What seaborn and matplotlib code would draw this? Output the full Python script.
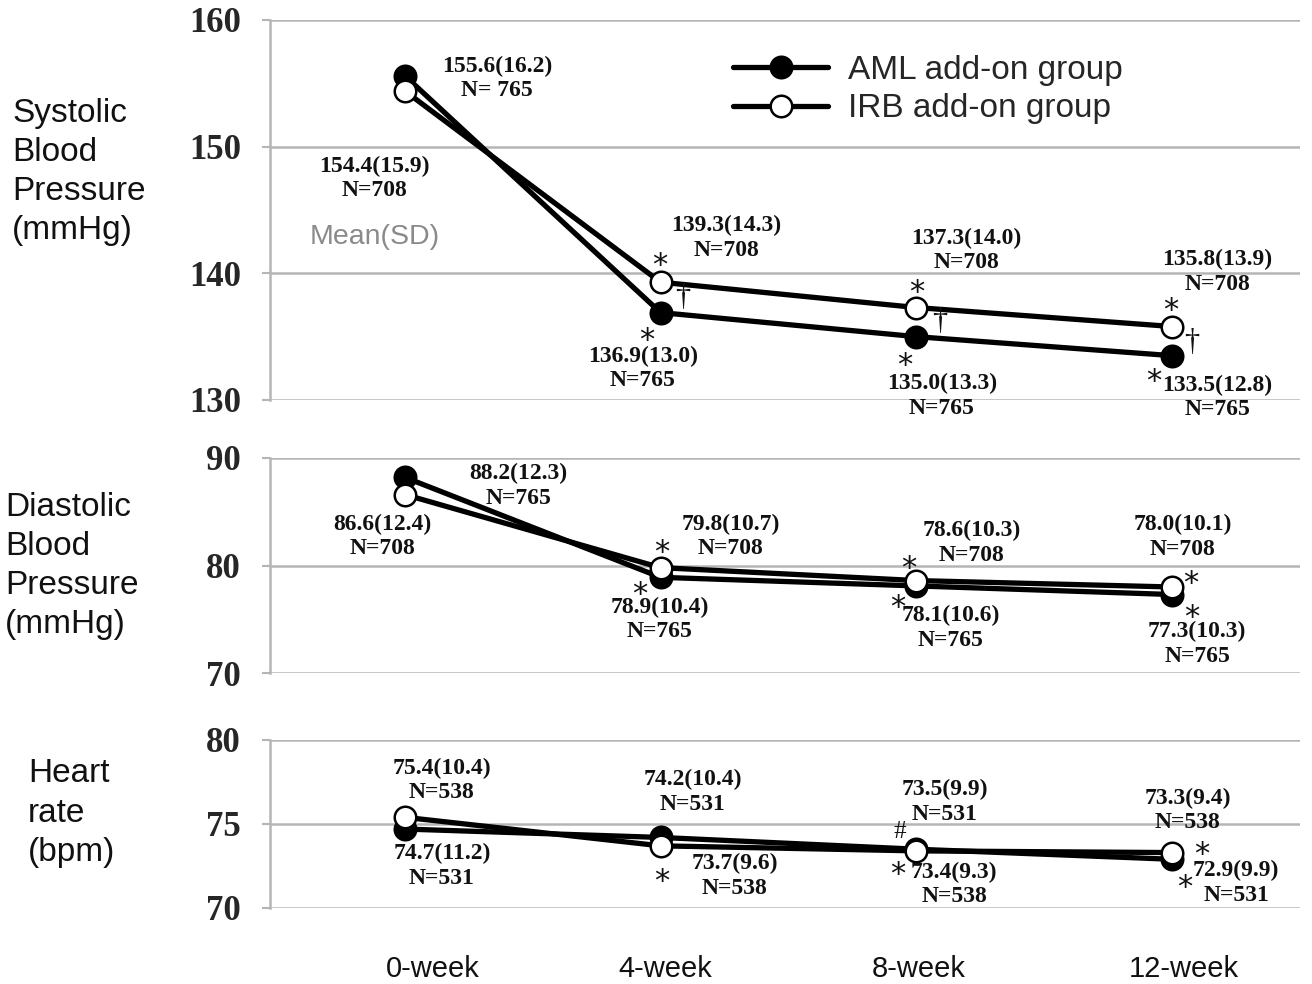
import numpy as np
import pandas as pd
import matplotlib
matplotlib.use("Agg")
import matplotlib.pyplot as plt
import seaborn as sns

# ---- data -------------------------------------------------------------
weeks = ["0-week", "4-week", "8-week", "12-week"]
groups = ["AML add-on group", "IRB add-on group"]

sbp_aml = [155.6, 136.9, 135.0, 133.5]
sbp_irb = [154.4, 139.3, 137.3, 135.8]
dbp_aml = [88.2, 78.9, 78.1, 77.3]
dbp_irb = [86.6, 79.8, 78.6, 78.0]
hr_aml = [74.7, 74.2, 73.5, 72.9]
hr_irb = [75.4, 73.7, 73.4, 73.3]

sbp_sd_aml = ["16.2", "13.0", "13.3", "12.8"]
sbp_sd_irb = ["15.9", "14.3", "14.0", "13.9"]
dbp_sd_aml = ["12.3", "10.4", "10.6", "10.3"]
dbp_sd_irb = ["12.4", "10.7", "10.3", "10.1"]
hr_sd_aml = ["11.2", "10.4", "9.9", "9.9"]
hr_sd_irb = ["10.4", "9.6", "9.3", "9.4"]

sbp_n_aml = ["N= 765", "N=765", "N=765", "N=765"]
sbp_n_irb = ["N=708", "N=708", "N=708", "N=708"]
dbp_n_aml = ["N=765", "N=765", "N=765", "N=765"]
dbp_n_irb = ["N=708", "N=708", "N=708", "N=708"]
hr_n_aml = ["N=531", "N=531", "N=531", "N=531"]
hr_n_irb = ["N=538", "N=538", "N=538", "N=538"]

panel_titles = ["Systolic\nBlood\nPressure\n(mmHg)",
                "Diastolic\nBlood\nPressure\n(mmHg)",
                "Heart\nrate\n(bpm)"]
panel_ticks = [[130, 140, 150, 160], [70, 80, 90], [70, 75, 80]]

# ---- style --------------------------------------------------------------
sns.set_theme(style="white")
plt.rcParams["font.family"] = ["Liberation Sans", "DejaVu Sans"]

SERIF = "Liberation Serif"
GRID = "#b5b5b5"
INK = "#111111"

fig = plt.figure(figsize=(13.12, 9.84), dpi=100)
W, H = 1312, 984


def axes_px(left, top, right, bottom):
    return fig.add_axes([left / W, 1 - bottom / H, (right - left) / W, (bottom - top) / H])


ax1 = axes_px(270, 20, 1300, 400)
ax2 = axes_px(270, 458, 1300, 673)
ax3 = axes_px(270, 740, 1300, 908)
axes = [ax1, ax2, ax3]

pos = np.arange(len(weeks))
series = [(sbp_aml, sbp_irb), (dbp_aml, dbp_irb), (hr_aml, hr_irb)]

for ax, (aml, irb), ticks in zip(axes, series, panel_ticks):
    df = pd.DataFrame({"pos": np.concatenate([pos, pos]),
                       "value": aml + irb,
                       "group": [groups[0]] * len(pos) + [groups[1]] * len(pos)})
    sns.lineplot(data=df[df.group == groups[0]], x="pos", y="value", ax=ax,
                 color="black", lw=3.8, marker="o", markersize=15.5,
                 markerfacecolor="black", markeredgecolor="black",
                 markeredgewidth=1.8, label=groups[0], legend=False, zorder=3)
    sns.lineplot(data=df[df.group == groups[1]], x="pos", y="value", ax=ax,
                 color="black", lw=3.8, marker="o", markersize=15.5,
                 markerfacecolor="white", markeredgecolor="black",
                 markeredgewidth=1.8, label=groups[1], legend=False, zorder=4)
    ax.set_xlim(-0.527, 3.5)
    ax.set_ylim(ticks[0], ticks[-1])
    ax.set_yticks(ticks)
    ax.set_yticklabels([str(t) for t in ticks], fontfamily=SERIF,
                       fontweight="bold", fontsize=25)
    ax.tick_params(axis="y", length=6, width=1.5, color=GRID, pad=15, left=True)
    ax.grid(axis="y", color=GRID, lw=1.8)
    ax.grid(axis="x", visible=False)
    for side in ["top", "right", "bottom"]:
        ax.spines[side].set_visible(False)
    ax.spines["left"].set_color(GRID)
    ax.spines["left"].set_linewidth(1.8)
    ax.set_xlabel("")
    ax.set_ylabel("")
    ax.set_xticks([])

ax3.set_xticks(pos + np.array([0.11, 0.02, 0.01, 0.045]))
ax3.set_xticklabels(weeks, fontsize=21, color=INK)
ax3.tick_params(axis="x", length=0, pad=34)

# panel titles
fig.text(12 / W, 1 - 172 / H, panel_titles[0], fontsize=24, va="center",
         ha="left", linespacing=1.34, color=INK)
fig.text(5 / W, 1 - 566 / H, panel_titles[1], fontsize=24, va="center",
         ha="left", linespacing=1.34, color=INK)
fig.text(28 / W, 1 - 813 / H, panel_titles[2], fontsize=24, va="center",
         ha="left", linespacing=1.34, color=INK)

# legend
handles, labels = ax1.get_legend_handles_labels()
fig.legend(handles, labels, loc="upper left",
           bbox_to_anchor=(733 / W, 1 - 55 / H), frameon=False, fontsize=24,
           handlelength=2.85, handletextpad=0.6, labelspacing=0.22,
           borderpad=0, borderaxespad=0)


def label(ax, x, y, mean, sd, n):
    ax.text(x, y, f"{mean:.1f}({sd})\n{n}", ha="center", va="center",
            fontfamily=SERIF, fontweight="bold", fontsize=17,
            linespacing=1.22, color=INK, zorder=6)


def sym(ax, x, y, s, size=22, family="DejaVu Sans"):
    ax.text(x, y, s, ha="center", va="center", fontsize=size,
            fontfamily=family, color=INK, zorder=6)


# systolic annotations
sbp_aml_xy = [(0.36, 155.4), (0.93, 132.5), (2.10, 130.3), (3.176, 130.2)]
sbp_irb_xy = [(-0.117, 147.5), (1.258, 142.8), (2.195, 141.8), (3.176, 140.1)]
for i in range(4):
    label(ax1, *sbp_aml_xy[i], sbp_aml[i], sbp_sd_aml[i], sbp_n_aml[i])
    label(ax1, *sbp_irb_xy[i], sbp_irb[i], sbp_sd_irb[i], sbp_n_irb[i])
ax1.text(-0.117, 142.9, "Mean(SD)", ha="center", va="center", fontsize=20.5,
         color="#8a8a8a")
for x, y in [(0.996, 140.6), (0.945, 134.7), (2.0, 138.5), (1.953, 132.7),
             (2.996, 137.1), (2.93, 131.5)]:
    sym(ax1, x, y, "*")
for x, y in [(1.086, 138.1), (2.09, 136.2), (3.078, 134.5)]:
    sym(ax1, x, y, "†", size=22, family=SERIF)

# diastolic annotations
dbp_aml_xy = [(0.445, 87.4), (0.996, 75.0), (2.133, 74.2), (3.098, 72.7)]
dbp_irb_xy = [(-0.086, 82.7), (1.273, 82.7), (2.215, 82.1), (3.04, 82.65)]
for i in range(4):
    label(ax2, *dbp_aml_xy[i], dbp_aml[i], dbp_sd_aml[i], dbp_n_aml[i])
    label(ax2, *dbp_irb_xy[i], dbp_irb[i], dbp_sd_irb[i], dbp_n_irb[i])
for x, y in [(1.004, 81.2), (0.92, 77.3), (1.97, 79.7), (1.926, 76.1),
             (3.074, 78.3), (3.078, 75.2)]:
    sym(ax2, x, y, "*")

# heart-rate annotations
hr_aml_xy = [(0.145, 72.5), (1.125, 76.9), (2.11, 76.3), (3.25, 71.5)]
hr_irb_xy = [(0.145, 77.6), (1.29, 71.9), (2.148, 71.4), (3.06, 75.8)]
for i in range(4):
    label(ax3, *hr_aml_xy[i], hr_aml[i], hr_sd_aml[i], hr_n_aml[i])
    label(ax3, *hr_irb_xy[i], hr_irb[i], hr_sd_irb[i], hr_n_irb[i])
for x, y in [(1.004, 71.6), (1.926, 72.0), (3.117, 73.2), (3.05, 71.2)]:
    sym(ax3, x, y, "*")
sym(ax3, 1.934, 74.5, "#", size=18, family=SERIF)

fig.savefig("out.png", dpi=100)
